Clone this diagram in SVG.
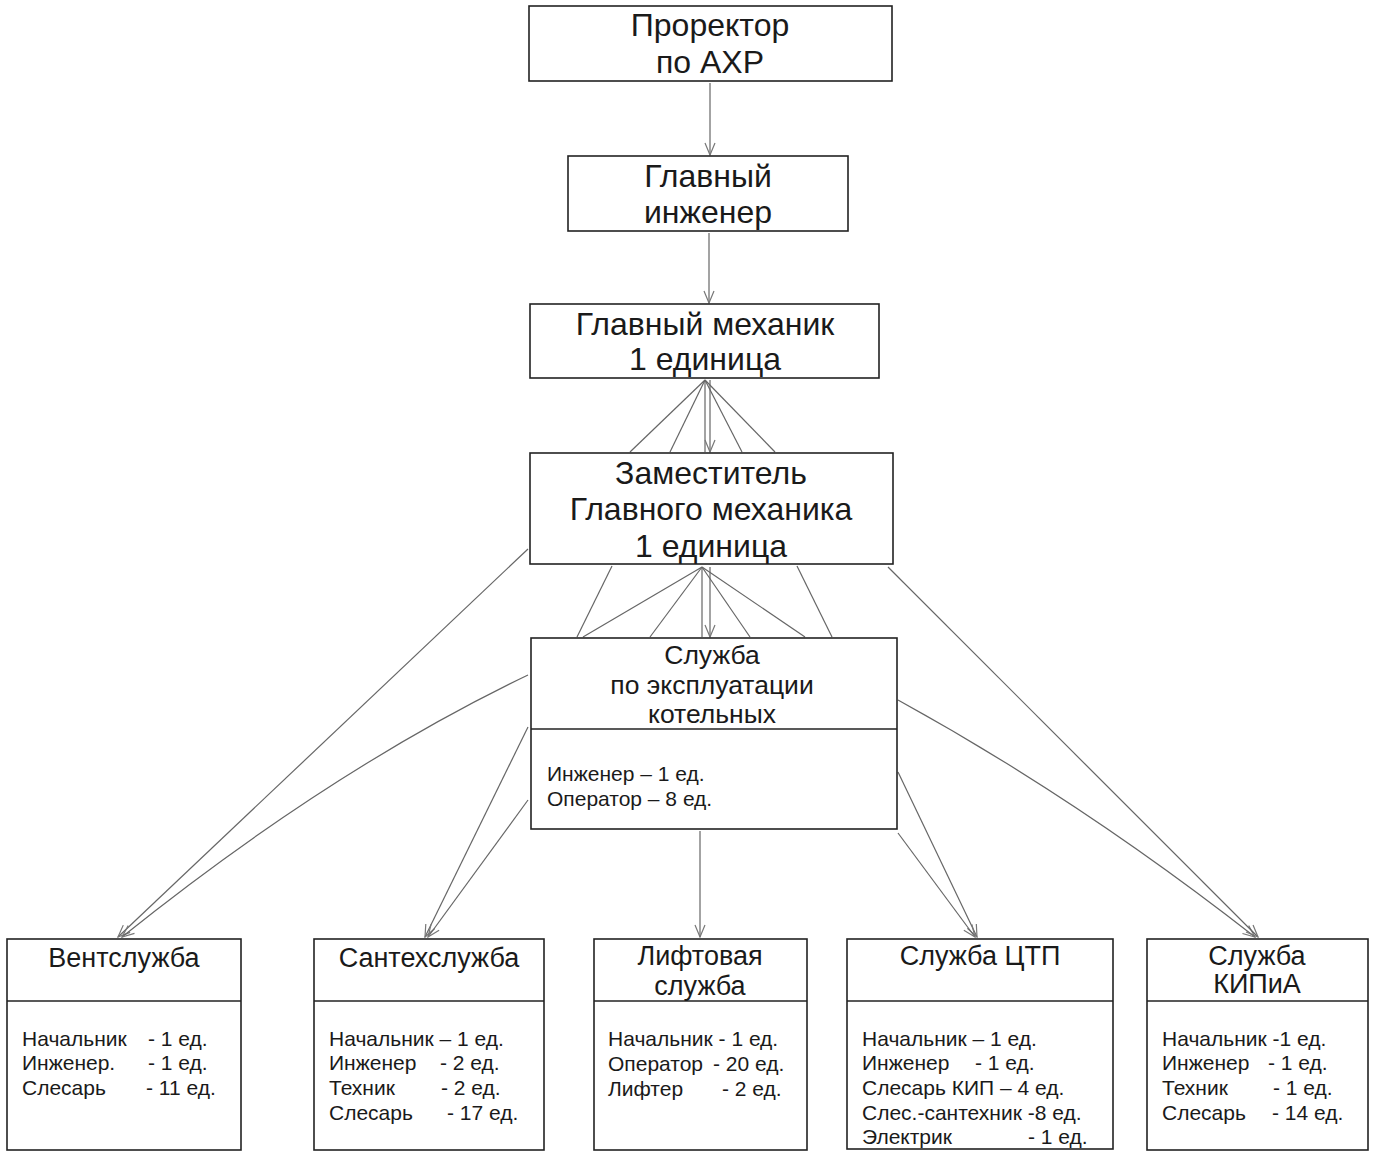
<svg xmlns="http://www.w3.org/2000/svg" width="1375" height="1157" viewBox="0 0 1375 1157">
<style>
.box{fill:#fff;stroke:#222;stroke-width:1.6}
.div{stroke:#222;stroke-width:1.4}
.t{font-family:"Liberation Sans",Arial,sans-serif;fill:#1a1a1a}
.big{font-size:32px;text-anchor:middle}
.mid{font-size:27px;text-anchor:middle}
.sm{font-size:21px}
.c line,.c path{stroke:#666;stroke-width:1.2;fill:none}
</style>
<defs>
<marker id="a" markerWidth="14" markerHeight="12" refX="13" refY="6" orient="auto" markerUnits="userSpaceOnUse">
<path d="M1,1 L13,6 L1,11" fill="none" stroke="#777" stroke-width="1.2"/>
</marker>
</defs>
<rect width="1375" height="1157" fill="#fff"/>

<g class="c" id="connectors">
<line x1="710" y1="83" x2="710" y2="155" marker-end="url(#a)"/>
<line x1="709" y1="233" x2="709" y2="303" marker-end="url(#a)"/>
<line x1="705" y1="380" x2="630" y2="452"/>
<line x1="705" y1="380" x2="670" y2="452"/>
<line x1="705" y1="380" x2="705" y2="452"/>
<line x1="710" y1="380" x2="710" y2="452" marker-end="url(#a)"/>
<line x1="705" y1="380" x2="742" y2="452"/>
<line x1="705" y1="380" x2="775" y2="452"/>
<line x1="612" y1="566" x2="577" y2="637"/>
<line x1="702" y1="567" x2="583" y2="637"/>
<line x1="702" y1="567" x2="650" y2="637"/>
<line x1="702" y1="567" x2="702" y2="637"/>
<line x1="710" y1="567" x2="710" y2="637" marker-end="url(#a)"/>
<line x1="702" y1="567" x2="750" y2="637"/>
<line x1="702" y1="567" x2="805" y2="637"/>
<line x1="797" y1="566" x2="832" y2="637"/>
<line x1="528" y1="549" x2="118" y2="937" marker-end="url(#a)"/>
<path d="M528,675 Q330,770 122,937" marker-end="url(#a)"/>
<line x1="528" y1="727" x2="425" y2="937" marker-end="url(#a)"/>
<line x1="528" y1="800" x2="428" y2="937" marker-end="url(#a)"/>
<line x1="700" y1="831" x2="700" y2="937" marker-end="url(#a)"/>
<line x1="898" y1="772" x2="977" y2="937" marker-end="url(#a)"/>
<line x1="898" y1="833" x2="975" y2="937" marker-end="url(#a)"/>
<path d="M898,700 Q1080,800 1255,937" marker-end="url(#a)"/>
<line x1="888" y1="567" x2="1258" y2="937" marker-end="url(#a)"/>
</g>

<g id="prorektor">
<rect class="box" x="529" y="6" width="363" height="75"/>
<text class="t big" x="710" y="36">Проректор</text>
<text class="t big" x="710" y="73">по АХР</text>
</g>

<g id="glavnyi-inzhener">
<rect class="box" x="568" y="156" width="280" height="75"/>
<text class="t big" x="708" y="187">Главный</text>
<text class="t big" x="708" y="223">инженер</text>
</g>

<g id="glavnyi-mekhanik">
<rect class="box" x="530" y="304" width="349" height="74"/>
<text class="t big" x="705" y="335">Главный механик</text>
<text class="t big" x="705" y="370">1 единица</text>
</g>

<g id="zamestitel">
<rect class="box" x="530" y="453" width="363" height="111"/>
<text class="t big" x="711" y="484">Заместитель</text>
<text class="t big" x="711" y="520">Главного механика</text>
<text class="t big" x="711" y="557">1 единица</text>
</g>

<g id="sluzhba-kotelnykh">
<rect class="box" x="531" y="638" width="366" height="191"/>
<line class="div" x1="531" y1="729" x2="897" y2="729"/>
<text class="t" style="font-size:26.5px;text-anchor:middle" x="712" y="664">Служба</text>
<text class="t" style="font-size:26.5px;text-anchor:middle" x="712" y="694">по эксплуатации</text>
<text class="t" style="font-size:26.5px;text-anchor:middle" x="712" y="723">котельных</text>
<text class="t sm" x="547" y="781">Инженер – 1 ед.</text>
<text class="t sm" x="547" y="806">Оператор – 8 ед.</text>
</g>

<g id="ventsluzhba">
<rect class="box" x="7" y="939" width="234" height="211"/>
<line class="div" x1="7" y1="1001" x2="241" y2="1001"/>
<text class="t mid" x="124" y="967">Вентслужба</text>
<text class="t sm" y="1046"><tspan x="22">Начальник</tspan><tspan x="148">- 1 ед.</tspan></text>
<text class="t sm" y="1070"><tspan x="22">Инженер.</tspan><tspan x="148">- 1 ед.</tspan></text>
<text class="t sm" y="1095"><tspan x="22">Слесарь</tspan><tspan x="146">- 11 ед.</tspan></text>
</g>

<g id="santekhsluzhba">
<rect class="box" x="314" y="939" width="230" height="211"/>
<line class="div" x1="314" y1="1001" x2="544" y2="1001"/>
<text class="t mid" x="429" y="967">Сантехслужба</text>
<text class="t sm" x="329" y="1046">Начальник – 1 ед.</text>
<text class="t sm" y="1070"><tspan x="329">Инженер</tspan><tspan x="440">- 2 ед.</tspan></text>
<text class="t sm" y="1095"><tspan x="329">Техник</tspan><tspan x="441">- 2  ед.</tspan></text>
<text class="t sm" y="1120"><tspan x="329">Слесарь</tspan><tspan x="447">- 17 ед.</tspan></text>
</g>

<g id="liftovaya">
<rect class="box" x="594" y="939" width="213" height="211"/>
<line class="div" x1="594" y1="1001" x2="807" y2="1001"/>
<text class="t mid" x="700" y="965">Лифтовая</text>
<text class="t mid" x="700" y="995">служба</text>
<text class="t sm" x="608" y="1046">Начальник - 1 ед.</text>
<text class="t sm" y="1071"><tspan x="608">Оператор</tspan><tspan x="713">- 20 ед.</tspan></text>
<text class="t sm" y="1096"><tspan x="608">Лифтер</tspan><tspan x="722">- 2 ед.</tspan></text>
</g>

<g id="sluzhba-ctp">
<rect class="box" x="847" y="939" width="266" height="210"/>
<line class="div" x1="847" y1="1001" x2="1113" y2="1001"/>
<text class="t mid" x="980" y="965">Служба ЦТП</text>
<text class="t sm" x="862" y="1046">Начальник – 1 ед.</text>
<text class="t sm" y="1070"><tspan x="862">Инженер</tspan><tspan x="975">- 1 ед.</tspan></text>
<text class="t sm" x="862" y="1095">Слесарь КИП – 4 ед.</text>
<text class="t sm" x="862" y="1120">Слес.-сантехник -8 ед.</text>
<text class="t sm" y="1144"><tspan x="862">Электрик</tspan><tspan x="1028">- 1 ед.</tspan></text>
</g>

<g id="sluzhba-kipia">
<rect class="box" x="1147" y="939" width="221" height="211"/>
<line class="div" x1="1147" y1="1001" x2="1368" y2="1001"/>
<text class="t mid" x="1257" y="965">Служба</text>
<text class="t mid" x="1257" y="993">КИПиА</text>
<text class="t sm" x="1162" y="1046">Начальник -1 ед.</text>
<text class="t sm" y="1070"><tspan x="1162">Инженер</tspan><tspan x="1268">- 1 ед.</tspan></text>
<text class="t sm" y="1095"><tspan x="1162">Техник</tspan><tspan x="1273">- 1 ед.</tspan></text>
<text class="t sm" y="1120"><tspan x="1162">Слесарь</tspan><tspan x="1272">- 14 ед.</tspan></text>
</g>
</svg>
